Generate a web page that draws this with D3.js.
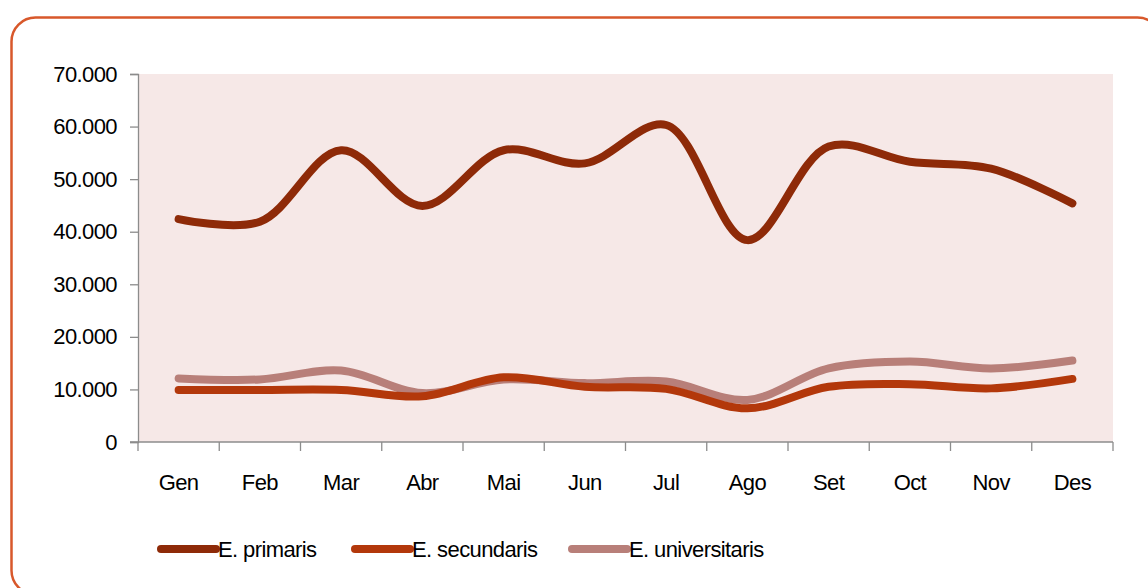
<!DOCTYPE html>
<html>
<head>
<meta charset="utf-8">
<script src="https://cdn.jsdelivr.net/npm/d3@7"></script>
<style>
  body { margin: 0; background: #fff; }
  text { font-family: "Liberation Sans", Arial, sans-serif; fill: #000; }
</style>
</head>
<body>
<div class="grafic"></div>
<script>
// Dades del grafic
var mesos = ["Gen", "Feb", "Mar", "Abr", "Mai", "Jun", "Jul", "Ago", "Set", "Oct", "Nov", "Des"];
var primaris = [42400, 41900, 55500, 44900, 55500, 53000, 60300, 38400, 56200, 53300, 52000, 45400];
var secundaris = [9900, 9900, 9900, 8700, 12300, 10500, 10100, 6400, 10500, 11000, 10200, 12000];
var universitaris = [12100, 11900, 13600, 9300, 11900, 11200, 11500, 8000, 14000, 15300, 14000, 15500];
var ticksY = [0, 10000, 20000, 30000, 40000, 50000, 60000, 70000];

var series = [
  { nom: "E. primaris", valors: primaris, color: "#8e2a08" },
  { nom: "E. secundaris", valors: secundaris, color: "#b3380b" },
  { nom: "E. universitaris", valors: universitaris, color: "#b87f79" }
];

var w = 1148,
    h = 588;

var svg = d3.select(".grafic")
  .append("svg")
  .attr("width", w)
  .attr("height", h);

// marc arrodonit (surt per la dreta i per baix)
svg.append("rect")
  .attr("x", 11.5)
  .attr("y", 17.5)
  .attr("width", 1150)
  .attr("height", 577)
  .attr("rx", 24)
  .attr("fill", "none")
  .attr("stroke", "#d8582b")
  .attr("stroke-width", 2.5);

var marge = { left: 138, right: 1113, top: 74, bottom: 442 };

var x = d3.scaleBand()
  .domain(mesos)
  .range([marge.left, marge.right]);

var y = d3.scaleLinear()
  .domain([0, 70000])
  .range([marge.bottom, marge.top]);

// fons de l'area
svg.append("rect")
  .attr("x", marge.left)
  .attr("y", marge.top)
  .attr("width", marge.right - marge.left)
  .attr("height", marge.bottom - marge.top)
  .attr("fill", "#f6e8e7");

var format = function (d) {
  return d === 0 ? "0" : d3.format(",")(d).replace(/,/g, ".");
};

// eix Y
var eixY = svg.append("g")
  .attr("transform", "translate(" + marge.left + ",0)")
  .call(d3.axisLeft(y).tickValues(ticksY).tickFormat(format).tickSize(8).tickPadding(13));
eixY.select(".domain").attr("stroke", "#8c8c8c").attr("stroke-width", 1.3);
eixY.selectAll(".tick line").attr("stroke", "#8c8c8c").attr("stroke-width", 1.3);
eixY.selectAll("text")
  .attr("font-size", "22px")
  .attr("letter-spacing", "-0.6px")
  .attr("font-family", "'Liberation Sans', Arial, sans-serif")
  .attr("fill", "#000");

// eix X (marques entre categories)
var eixX = svg.append("g")
  .attr("transform", "translate(0," + marge.bottom + ")");
eixX.append("line")
  .attr("x1", marge.left - 8)
  .attr("x2", marge.right)
  .attr("stroke", "#8c8c8c")
  .attr("stroke-width", 1.3);
var limits = mesos.map(function (m) { return x(m); }).concat([marge.right]);
eixX.selectAll(".marca")
  .data(limits)
  .enter()
  .append("line")
  .attr("class", "marca")
  .attr("x1", function (d) { return d; })
  .attr("x2", function (d) { return d; })
  .attr("y1", 0)
  .attr("y2", 9)
  .attr("stroke", "#8c8c8c")
  .attr("stroke-width", 1.3);
eixX.selectAll(".mes")
  .data(mesos)
  .enter()
  .append("text")
  .attr("class", "mes")
  .attr("x", function (d) { return x(d) + x.bandwidth() / 2; })
  .attr("y", 48)
  .attr("text-anchor", "middle")
  .attr("font-size", "22px")
  .attr("letter-spacing", "-0.6px")
  .text(function (d) { return d; });

// linies suavitzades
var linia = d3.line()
  .x(function (d, i) { return x(mesos[i]) + x.bandwidth() / 2; })
  .y(function (d) { return y(d); })
  .curve(d3.curveCatmullRom.alpha(0.5));

svg.selectAll(".serie")
  .data(series.slice().reverse())
  .enter()
  .append("path")
  .attr("class", "serie")
  .attr("d", function (d) { return linia(d.valors); })
  .attr("fill", "none")
  .attr("stroke", function (d) { return d.color; })
  .attr("stroke-width", 8)
  .attr("stroke-linecap", "round")
  .attr("stroke-linejoin", "round");

// llegenda
var llegendaX = [161, 355, 572];
var llegenda = svg.selectAll(".llegenda")
  .data(series)
  .enter()
  .append("g")
  .attr("class", "llegenda")
  .attr("transform", function (d, i) { return "translate(" + llegendaX[i] + ",549)"; });
llegenda.append("line")
  .attr("x1", 0)
  .attr("x2", 55)
  .attr("stroke", function (d) { return d.color; })
  .attr("stroke-width", 8)
  .attr("stroke-linecap", "round");
llegenda.append("text")
  .attr("x", 57)
  .attr("y", 8)
  .attr("font-size", "22px")
  .attr("letter-spacing", "-0.6px")
  .text(function (d) { return d.nom; });
</script>
</body>
</html>
